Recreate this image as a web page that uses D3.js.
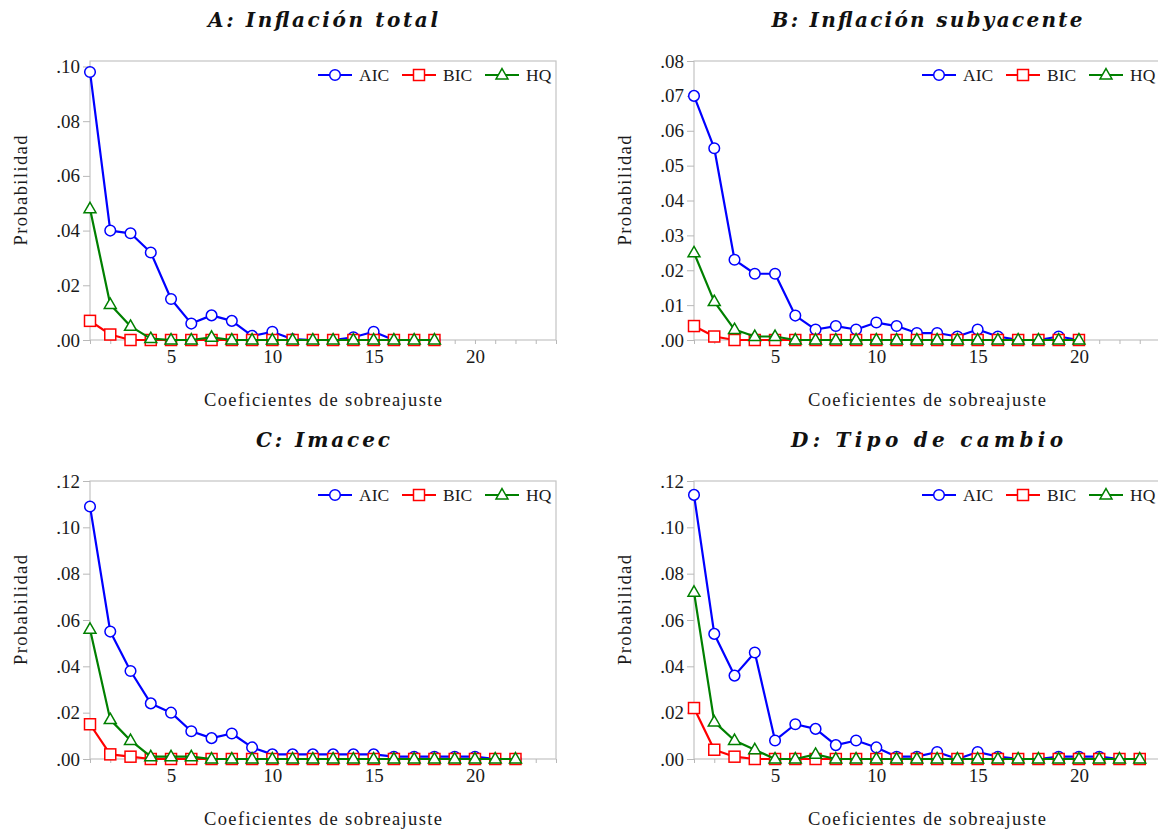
<!DOCTYPE html>
<html>
<head>
<meta charset="utf-8">
<script src="https://cdn.jsdelivr.net/npm/d3@7"></script>
<style>
  body { margin: 0; background: #fff; }
  svg text { font-family: "Liberation Serif", "DejaVu Serif", serif; }
  svg text.title { font-family: "DejaVu Serif", "Liberation Serif", serif; }
</style>
</head>
<body>
<svg width="1158" height="830"></svg>
<script>
// Data
let seriesNames = ["AIC", "BIC", "HQ"];
let xTickLabels = [5, 10, 15, 20];

let titles = ["A: Inflación total", "B: Inflación subyacente", "C: Imacec", "D: Tipo de cambio"];
let yTicksA = [0, 0.02, 0.04, 0.06, 0.08, 0.10];
let yTicksB = [0, 0.01, 0.02, 0.03, 0.04, 0.05, 0.06, 0.07, 0.08];
let yTicksC = [0, 0.02, 0.04, 0.06, 0.08, 0.10, 0.12];
let yTicksD = [0, 0.02, 0.04, 0.06, 0.08, 0.10, 0.12];

let aicA = [0.098, 0.040, 0.039, 0.032, 0.015, 0.006, 0.009, 0.007, 0.0015, 0.003, 0.0003, 0, 0, 0.001, 0.003, 0, 0, 0];
let bicA = [0.007, 0.002, 0, 0, 0, 0, 0, 0, 0, 0, 0, 0, 0, 0, 0, 0, 0, 0];
let hqA = [0.048, 0.013, 0.005, 0.0005, 0, 0, 0.001, 0, 0, 0, 0, 0, 0, 0, 0, 0, 0, 0];

let aicB = [0.070, 0.055, 0.023, 0.019, 0.019, 0.007, 0.003, 0.004, 0.003, 0.005, 0.004, 0.002, 0.002, 0.001, 0.003, 0.001, 0, 0, 0.001, 0];
let bicB = [0.004, 0.001, 0, 0, 0, 0, 0, 0, 0, 0, 0, 0, 0, 0, 0, 0, 0, 0, 0, 0];
let hqB = [0.025, 0.011, 0.003, 0.001, 0.001, 0, 0, 0, 0, 0, 0, 0, 0, 0, 0, 0, 0, 0, 0, 0];

let aicC = [0.109, 0.055, 0.038, 0.024, 0.020, 0.012, 0.009, 0.011, 0.005, 0.002, 0.002, 0.002, 0.002, 0.002, 0.002, 0.001, 0.001, 0.001, 0.001, 0.001, 0, 0];
let bicC = [0.015, 0.002, 0.001, 0, 0, 0, 0, 0, 0, 0, 0, 0, 0, 0, 0, 0, 0, 0, 0, 0, 0, 0];
let hqC = [0.056, 0.017, 0.008, 0.001, 0.001, 0.001, 0, 0, 0, 0, 0, 0, 0, 0, 0, 0, 0, 0, 0, 0, 0, 0];

let aicD = [0.114, 0.054, 0.036, 0.046, 0.008, 0.015, 0.013, 0.006, 0.008, 0.005, 0.001, 0.001, 0.003, 0, 0.003, 0.001, 0, 0, 0.001, 0.001, 0.001, 0, 0];
let bicD = [0.022, 0.004, 0.001, 0, 0, 0, 0, 0, 0, 0, 0, 0, 0, 0, 0, 0, 0, 0, 0, 0, 0, 0, 0];
let hqD = [0.072, 0.016, 0.008, 0.004, 0, 0, 0.002, 0, 0, 0, 0, 0, 0, 0, 0, 0, 0, 0, 0, 0, 0, 0, 0];

// Layout
let colors = ["#0000ff", "#ff0000", "#008000"];
let plotW = 466;
let panels = [
  { title: titles[0], left: 90, top: 61, h: 279, yMax: 0.102, yTicks: yTicksA, series: [aicA, bicA, hqA], titleLen: 230 },
  { title: titles[1], left: 694, top: 61, h: 279, yMax: 0.08, yTicks: yTicksB, series: [aicB, bicB, hqB], titleLen: 311 },
  { title: titles[2], left: 90, top: 481, h: 278, yMax: 0.12, yTicks: yTicksC, series: [aicC, bicC, hqC], titleLen: 134 },
  { title: titles[3], left: 694, top: 481, h: 278, yMax: 0.12, yTicks: yTicksD, series: [aicD, bicD, hqD], titleLen: 272 }
];

let svg = d3.select("svg");
let tickFmt = (d) => d3.format(".2f")(d).replace(/^0/, "");

let drawMarker = (g, type, color, x, y) => {
  if (type === 0) {
    g.append("circle").attr("cx", x).attr("cy", y).attr("r", 5.3)
      .attr("fill", "#fff").attr("stroke", color).attr("stroke-width", 1.5);
  } else if (type === 1) {
    g.append("rect").attr("x", x - 5.5).attr("y", y - 5.5).attr("width", 11).attr("height", 11)
      .attr("fill", "#fff").attr("stroke", color).attr("stroke-width", 1.5);
  } else {
    g.append("path").attr("d", d3.symbol().type(d3.symbolTriangle).size(62)())
      .attr("transform", "translate(" + x + "," + (y + 0.5) + ")")
      .attr("fill", "#fff").attr("stroke", color).attr("stroke-width", 1.5);
  }
};

let drawPanel = (p) => {
  let xScale = d3.scaleLinear().domain([1, 24]).range([p.left, p.left + plotW]);
  let yScale = d3.scaleLinear().domain([0, p.yMax]).range([p.top + p.h, p.top]);
  let bottom = p.top + p.h;
  let g = svg.append("g");

  // frame
  g.append("rect").attr("x", p.left).attr("y", p.top).attr("width", plotW).attr("height", p.h)
    .attr("fill", "none").attr("stroke", "#c4c4c4").attr("stroke-width", 1.2);

  // y axis
  let yAxis = d3.axisLeft(yScale).tickValues(p.yTicks).tickFormat(tickFmt).tickSize(7).tickPadding(3);
  let ya = g.append("g").attr("transform", "translate(" + p.left + ",0)").call(yAxis);
  ya.select(".domain").remove();
  ya.selectAll("line").attr("stroke", "#b8b8b8");
  ya.selectAll("text").attr("font-size", 19).attr("fill", "#1a1a1a");

  // x axis: minor ticks on every integer, labels on 5s
  let xAxis = d3.axisBottom(xScale).tickValues(d3.range(1, 25)).tickSize(4).tickPadding(6)
    .tickFormat((d) => (xTickLabels.includes(d) ? d : ""));
  let xa = g.append("g").attr("transform", "translate(0," + bottom + ")").call(xAxis);
  xa.select(".domain").remove();
  xa.selectAll("line").attr("stroke", "#b8b8b8");
  xa.selectAll("text").attr("font-size", 19).attr("fill", "#1a1a1a");

  // titles and labels
  g.append("text").attr("class", "title").attr("x", p.left + plotW / 2).attr("y", p.top - 34)
    .attr("text-anchor", "middle").attr("font-weight", "bold").attr("font-style", "italic")
    .attr("font-size", 20).attr("textLength", p.titleLen).attr("lengthAdjust", "spacing")
    .attr("fill", "#111").text(p.title);
  g.append("text").attr("x", p.left + plotW / 2).attr("y", bottom + 66)
    .attr("text-anchor", "middle").attr("font-size", 18.5).attr("textLength", 238)
    .attr("lengthAdjust", "spacing").attr("fill", "#1a1a1a").text("Coeficientes de sobreajuste");
  g.append("text")
    .attr("transform", "translate(" + (p.left - 63) + "," + (p.top + p.h / 2 - 10) + ") rotate(-90)")
    .attr("text-anchor", "middle").attr("font-size", 18.5).attr("textLength", 110)
    .attr("lengthAdjust", "spacing").attr("fill", "#1a1a1a").text("Probabilidad");

  // series
  p.series.forEach((vals, i) => {
    let line = d3.line().x((d, j) => xScale(j + 1)).y((d) => yScale(d));
    g.append("path").datum(vals).attr("d", line).attr("fill", "none")
      .attr("stroke", colors[i]).attr("stroke-width", 2.2).attr("stroke-linejoin", "round");
    let mg = g.append("g");
    vals.forEach((v, j) => drawMarker(mg, i, colors[i], xScale(j + 1), yScale(v)));
  });

  // legend
  let legX = [228, 312, 395];
  let lg = g.append("g");
  seriesNames.forEach((name, i) => {
    let lx = p.left + legX[i];
    let ly = p.top + 14;
    lg.append("line").attr("x1", lx).attr("x2", lx + 34).attr("y1", ly).attr("y2", ly)
      .attr("stroke", colors[i]).attr("stroke-width", 2.2);
    drawMarker(lg, i, colors[i], lx + 17, ly);
    lg.append("text").attr("x", lx + 41).attr("y", ly + 6).attr("font-size", 17.5)
      .attr("fill", "#1a1a1a").text(name);
  });
};

panels.forEach(drawPanel);
</script>
</body>
</html>
